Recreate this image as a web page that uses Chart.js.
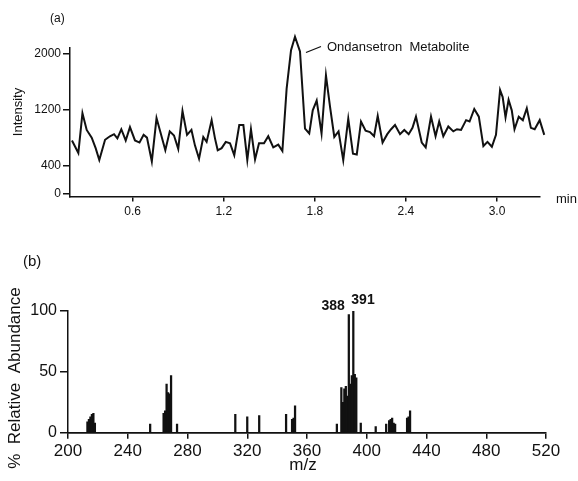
<!DOCTYPE html>
<html>
<head>
<meta charset="utf-8">
<script src="https://cdn.jsdelivr.net/npm/chart.js@4.4.1/dist/chart.umd.min.js"></script>
<style>
  body { margin: 0; background: #fff; width: 578px; height: 481px; position: relative; overflow: hidden; }
  canvas { position: absolute; left: 0; }
  #chartA { top: 0; }
  #chartB { top: 240px; }
</style>
</head>
<body>
<canvas id="chartA" width="578" height="232"></canvas>
<canvas id="chartB" width="578" height="241"></canvas>
<script>
// (a) ion chromatogram, time in min
const times = [
  0.200, 0.242, 0.269, 0.297, 0.330, 0.356, 0.380, 0.418, 0.450, 0.477,
  0.499, 0.525, 0.554, 0.582, 0.615, 0.645, 0.672, 0.694, 0.726, 0.757,
  0.780, 0.815, 0.844, 0.872, 0.900, 0.928, 0.958, 0.987, 1.010, 1.037,
  1.065, 1.087, 1.120, 1.142, 1.160, 1.186, 1.213, 1.241, 1.269, 1.302,
  1.329, 1.355, 1.379, 1.406, 1.432, 1.465, 1.493, 1.526, 1.559, 1.586,
  1.614, 1.643, 1.669, 1.702, 1.735, 1.763, 1.786, 1.812, 1.844, 1.873,
  1.900, 1.928, 1.956, 1.987, 2.020, 2.051, 2.076, 2.104, 2.134, 2.163,
  2.190, 2.214, 2.246, 2.277, 2.302, 2.328, 2.361, 2.389, 2.418, 2.443,
  2.466, 2.504, 2.530, 2.565, 2.595, 2.619, 2.646, 2.679, 2.712, 2.736,
  2.763, 2.796, 2.819, 2.850, 2.880, 2.910, 2.937, 2.966, 2.993, 3.020,
  3.037, 3.056, 3.076, 3.097, 3.115, 3.143, 3.170, 3.196, 3.223, 3.248,
  3.281, 3.311
];
const intensity = [
  760, 580, 1150, 910, 800, 650, 480, 770, 820, 850,
  790, 920, 760, 950, 760, 730, 840, 800, 460, 1080,
  900, 620, 890, 830, 640, 1180, 840, 910, 690, 500,
  810, 740, 1050, 790, 620, 650, 740, 720, 550, 980,
  980, 480, 920, 490, 720, 720, 820, 660, 700, 610,
  1500, 2050, 2240, 2030, 930, 860, 1190, 1330, 860, 1690,
  1240, 810, 890, 480, 1070, 570, 560, 1030, 900, 880,
  820, 1110, 730, 850, 920, 980, 850, 910, 850, 940,
  1100, 730, 660, 1100, 820, 1030, 820, 960, 890, 920,
  910, 1050, 1030, 1210, 1100, 680, 740, 670, 840, 1480,
  1380, 1090, 1340, 1190, 920, 1100, 1050, 1220, 940, 920,
  1050, 840
];
const minTicks = [0.6, 1.2, 1.8, 2.4, 3.0];
const intensityTicks = [0, 400, 1200, 2000];

// (b) mass spectrum
const mzValues = [
  213, 214, 215, 216, 217, 218, 255, 264, 265, 266, 267, 268, 269, 273,
  312, 320, 328, 346, 350, 351, 352, 380,
  383, 384, 385, 386, 387, 388, 389, 390, 391, 392, 393,
  396, 406, 413, 415, 416, 417, 418, 419, 427, 428, 429
];
const abundance = [
  9, 11, 13, 15, 16, 8, 7, 16, 18, 40, 33, 32, 47, 7,
  15, 13, 14, 15, 11, 12, 22, 7,
  37, 25, 36, 38, 30, 97, 40, 47, 100, 48, 45,
  8, 5, 7, 10, 11, 12, 8, 7, 12, 13, 18
];
const mzTicks = [200, 240, 280, 320, 360, 400, 440, 480, 520];
const abundanceTicks = [0, 50, 100];
const peakLabels = [388, 391];

const ink = '#111';
const fontFamily = '"Liberation Sans", Arial, Helvetica, sans-serif';

function fixedTicks(list) {
  return scale => { scale.ticks = list.map(v => ({ value: v })); };
}

// texts for chart (a)
const textsA = {
  id: 'textsA',
  afterDraw(chart) {
    const ctx = chart.ctx;
    ctx.save();
    ctx.fillStyle = ink;
    ctx.strokeStyle = ink;
    ctx.font = '12px ' + fontFamily;
    ctx.textBaseline = 'alphabetic';
    ctx.fillText('(a)', 50, 22);
    ctx.font = '13px ' + fontFamily;
    ctx.fillText('min', 556, 203);
    ctx.textBaseline = 'middle';
    ctx.fillText('Ondansetron  Metabolite', 327, 47);
    ctx.lineWidth = 1.2;
    ctx.beginPath();
    ctx.moveTo(306, 52.5);
    ctx.lineTo(321, 46.5);
    ctx.stroke();
    // y title
    ctx.translate(18, 112);
    ctx.rotate(-Math.PI / 2);
    ctx.textAlign = 'center';
    ctx.fillText('Intensity', 0, 0);
    ctx.restore();
  }
};

// texts for chart (b)
const textsB = {
  id: 'textsB',
  afterDraw(chart) {
    const ctx = chart.ctx;
    const x = chart.scales.x;
    ctx.save();
    ctx.fillStyle = ink;
    ctx.font = '15px ' + fontFamily;
    ctx.fillText('(b)', 23, 26);
    ctx.font = '17px ' + fontFamily;
    ctx.textAlign = 'center';
    ctx.textBaseline = 'middle';
    ctx.fillText('m/z', 303, 225);
    // peak labels
    ctx.font = 'bold 14px ' + fontFamily;
    ctx.textAlign = 'right';
    ctx.fillText(String(peakLabels[0]), x.getPixelForValue(peakLabels[0]) - 4, 66);
    ctx.textAlign = 'left';
    ctx.fillText(String(peakLabels[1]), x.getPixelForValue(peakLabels[1]) - 2, 60);
    // y title
    ctx.font = '17px ' + fontFamily;
    ctx.translate(15, 138);
    ctx.rotate(-Math.PI / 2);
    ctx.textAlign = 'center';
    ctx.fillText('%  Relative  Abundance', 0, 0);
    ctx.restore();
  }
};

new Chart(document.getElementById('chartA'), {
  type: 'line',
  data: {
    datasets: [{
      data: times.map((t, i) => ({ x: t, y: intensity[i] })),
      borderColor: ink,
      borderWidth: 2,
      pointRadius: 0,
      tension: 0,
      clip: false
    }]
  },
  options: {
    responsive: false,
    animation: false,
    layout: { padding: { top: 48, right: 38, left: 0, bottom: 0 } },
    plugins: { legend: { display: false }, tooltip: { enabled: false } },
    scales: {
      x: {
        type: 'linear',
        min: 0.187,
        max: 3.283,
        afterBuildTicks: fixedTicks(minTicks),
        afterFit: s => { s.height = 35.5; },
        border: { color: ink, width: 1.5 },
        grid: { drawOnChartArea: false, drawTicks: true, tickLength: 5, color: ink, lineWidth: 1.5 },
        ticks: { color: ink, font: { family: fontFamily, size: 12 }, padding: 3, maxRotation: 0, callback: v => v.toFixed(1) }
      },
      y: {
        min: -40,
        max: 2080,
        afterBuildTicks: fixedTicks(intensityTicks),
        afterFit: s => { s.width = 70; },
        border: { color: ink, width: 1.5 },
        grid: { drawOnChartArea: false, drawTicks: true, tickLength: 7, color: ink, lineWidth: 1.5 },
        ticks: { color: ink, font: { family: fontFamily, size: 12 }, padding: 2, callback: v => String(v) }
      }
    }
  },
  plugins: [textsA]
});

new Chart(document.getElementById('chartB'), {
  type: 'bar',
  data: {
    datasets: [{
      data: mzValues.map((m, i) => ({ x: m, y: abundance[i] })),
      backgroundColor: ink,
      barThickness: 1.6
    }]
  },
  options: {
    responsive: false,
    animation: false,
    layout: { padding: { top: 71, right: 32, left: 0, bottom: 0 } },
    plugins: { legend: { display: false }, tooltip: { enabled: false } },
    scales: {
      x: {
        type: 'linear',
        min: 200,
        max: 520,
        offset: false,
        afterBuildTicks: fixedTicks(mzTicks),
        afterFit: s => { s.height = 48.3; },
        border: { color: ink, width: 1.8 },
        grid: { offset: false, drawOnChartArea: false, drawTicks: true, tickLength: 6, color: ink, lineWidth: 1.5 },
        ticks: { color: ink, font: { family: fontFamily, size: 17 }, padding: 2, maxRotation: 0, callback: v => String(v) }
      },
      y: {
        min: 0,
        max: 100,
        afterBuildTicks: fixedTicks(abundanceTicks),
        afterFit: s => { s.width = 68; },
        border: { color: ink, width: 1.5 },
        grid: { drawOnChartArea: false, drawTicks: true, tickLength: 8, color: ink, lineWidth: 1.5 },
        ticks: { color: ink, font: { family: fontFamily, size: 16 }, padding: 3 }
      }
    }
  },
  plugins: [textsB]
});
</script>
</body>
</html>
